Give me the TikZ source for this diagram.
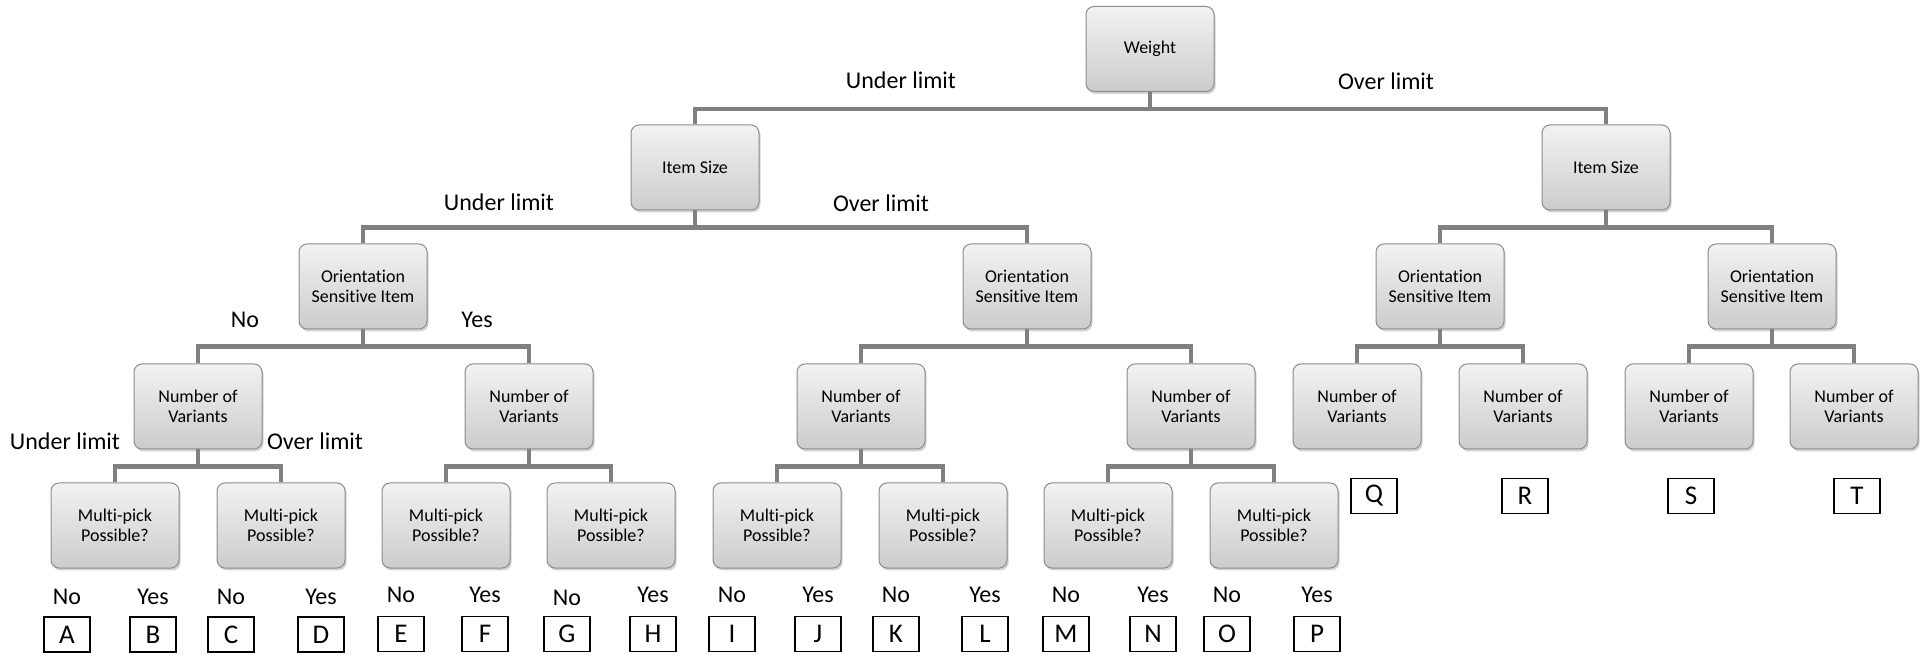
\documentclass[tikz,border=0pt]{standalone}
\usepackage{fontspec}
\setmainfont{Carlito}[Ligatures=NoCommon]
\usepackage{tikz}
\usetikzlibrary{shapes,shadows,positioning}

\begin{document}
\begin{tikzpicture}[x=0.5pt,y=-0.5pt]
\tikzstyle{box}=[rectangle, rounded corners=4pt, draw=gray!90, line width=0.5pt, top color=gray!10, bottom color=gray!40, minimum width=64pt, minimum height=42.5pt, align=center, font=\fontsize{9}{10}\selectfont, drop shadow={shadow xshift=0.8pt, shadow yshift=-1.2pt, opacity=0.35}]
\tikzstyle{leaf}=[rectangle, draw=black, line width=0.7pt, minimum width=23pt, minimum height=17.5pt, inner sep=0pt, font=\fontsize{13.5}{14}\selectfont]
\tikzstyle{lbl}=[inner sep=0pt, font=\fontsize{12}{14}\selectfont]
\tikzstyle{link}=[draw=gray, line width=2.3pt, to path={(\tikztostart.south) -- ++(0,17) -| (\tikztotarget.north)}]

\useasboundingbox (0,0) rectangle (1928,657);

	% decision boxes
	\node[box] (w) at (1150,49) []{Weight};
	\node[box] (is_1) at (695,167.5) []{Item Size};
	\node[box] (is_2) at (1606,167.5) []{Item Size};
	\node[box] (osi_1) at (363,286.5) []{Orientation\\Sensitive Item};
	\node[box] (osi_2) at (1027,286.5) []{Orientation\\Sensitive Item};
	\node[box] (osi_3) at (1440,286.5) []{Orientation\\Sensitive Item};
	\node[box] (osi_4) at (1772,286.5) []{Orientation\\Sensitive Item};
	\node[box] (nv_1) at (198,406.5) []{Number of\\Variants};
	\node[box] (nv_2) at (529,406.5) []{Number of\\Variants};
	\node[box] (nv_3) at (861,406.5) []{Number of\\Variants};
	\node[box] (nv_4) at (1191,406.5) []{Number of\\Variants};
	\node[box] (nv_5) at (1357,406.5) []{Number of\\Variants};
	\node[box] (nv_6) at (1523,406.5) []{Number of\\Variants};
	\node[box] (nv_7) at (1689,406.5) []{Number of\\Variants};
	\node[box] (nv_8) at (1854,406.5) []{Number of\\Variants};
	\node[box] (mp_1) at (115,525.5) []{Multi-pick\\Possible?};
	\node[box] (mp_2) at (281,525.5) []{Multi-pick\\Possible?};
	\node[box] (mp_3) at (446,525.5) []{Multi-pick\\Possible?};
	\node[box] (mp_4) at (611,525.5) []{Multi-pick\\Possible?};
	\node[box] (mp_5) at (777,525.5) []{Multi-pick\\Possible?};
	\node[box] (mp_6) at (943,525.5) []{Multi-pick\\Possible?};
	\node[box] (mp_7) at (1108,525.5) []{Multi-pick\\Possible?};
	\node[box] (mp_8) at (1274,525.5) []{Multi-pick\\Possible?};

	\path [link]
		(w) edge [] (is_1)
		(w) edge [] (is_2)
		(is_1) edge [] (osi_1)
		(is_1) edge [] (osi_2)
		(is_2) edge [] (osi_3)
		(is_2) edge [] (osi_4)
		(osi_1) edge [] (nv_1)
		(osi_1) edge [] (nv_2)
		(osi_2) edge [] (nv_3)
		(osi_2) edge [] (nv_4)
		(osi_3) edge [] (nv_5)
		(osi_3) edge [] (nv_6)
		(osi_4) edge [] (nv_7)
		(osi_4) edge [] (nv_8)
		(nv_1) edge [] (mp_1)
		(nv_1) edge [] (mp_2)
		(nv_2) edge [] (mp_3)
		(nv_2) edge [] (mp_4)
		(nv_3) edge [] (mp_5)
		(nv_3) edge [] (mp_6)
		(nv_4) edge [] (mp_7)
		(nv_4) edge [] (mp_8);

	% branch labels
	\node[lbl] (ul_1) at (901,80) []{Under limit};
	\node[lbl] (ol_1) at (1386,81) []{Over limit};
	\node[lbl] (ul_2) at (499,202) []{Under limit};
	\node[lbl] (ol_2) at (881,203) []{Over limit};
	\node[lbl] (no_0) at (245,320) []{No};
	\node[lbl] (yes_0) at (477,320) []{Yes};
	\node[lbl] (ul_3) at (65,441) []{Under limit};
	\node[lbl] (ol_3) at (315,441) []{Over limit};

	\node[lbl] (no_a) at (67,597) []{No};
	\node[lbl] (yes_b) at (153,597) []{Yes};
	\node[lbl] (no_c) at (231,597) []{No};
	\node[lbl] (yes_d) at (321,597) []{Yes};
	\node[lbl] (no_e) at (401,595) []{No};
	\node[lbl] (yes_f) at (485,595) []{Yes};
	\node[lbl] (no_g) at (567,598) []{No};
	\node[lbl] (yes_h) at (653,595) []{Yes};
	\node[lbl] (no_i) at (732,595) []{No};
	\node[lbl] (yes_j) at (818,595) []{Yes};
	\node[lbl] (no_k) at (896,595) []{No};
	\node[lbl] (yes_l) at (985,595) []{Yes};
	\node[lbl] (no_m) at (1066,595) []{No};
	\node[lbl] (yes_n) at (1153,595) []{Yes};
	\node[lbl] (no_o) at (1227,595) []{No};
	\node[lbl] (yes_p) at (1317,595) []{Yes};

	% outcomes
	\node[leaf] (l_A) at (67,634.5) []{A};
	\node[leaf] (l_B) at (153,634.5) []{B};
	\node[leaf] (l_C) at (231,634.5) []{C};
	\node[leaf] (l_D) at (321,634.5) []{D};
	\node[leaf] (l_E) at (401,634) []{E};
	\node[leaf] (l_F) at (485,634) []{F};
	\node[leaf] (l_G) at (567,634) []{G};
	\node[leaf] (l_H) at (653,634) []{H};
	\node[leaf] (l_I) at (732,634) []{I};
	\node[leaf] (l_J) at (818,634) []{J};
	\node[leaf] (l_K) at (896,634) []{K};
	\node[leaf] (l_L) at (985,634) []{L};
	\node[leaf] (l_M) at (1066,634) []{M};
	\node[leaf] (l_N) at (1153,634) []{N};
	\node[leaf] (l_O) at (1227,634) []{O};
	\node[leaf] (l_P) at (1317,634) []{P};
	\node[leaf] (l_Q) at (1374,496) []{Q};
	\node[leaf] (l_R) at (1525,496) []{R};
	\node[leaf] (l_S) at (1691,496) []{S};
	\node[leaf] (l_T) at (1857,496) []{T};

\end{tikzpicture}
\end{document}
